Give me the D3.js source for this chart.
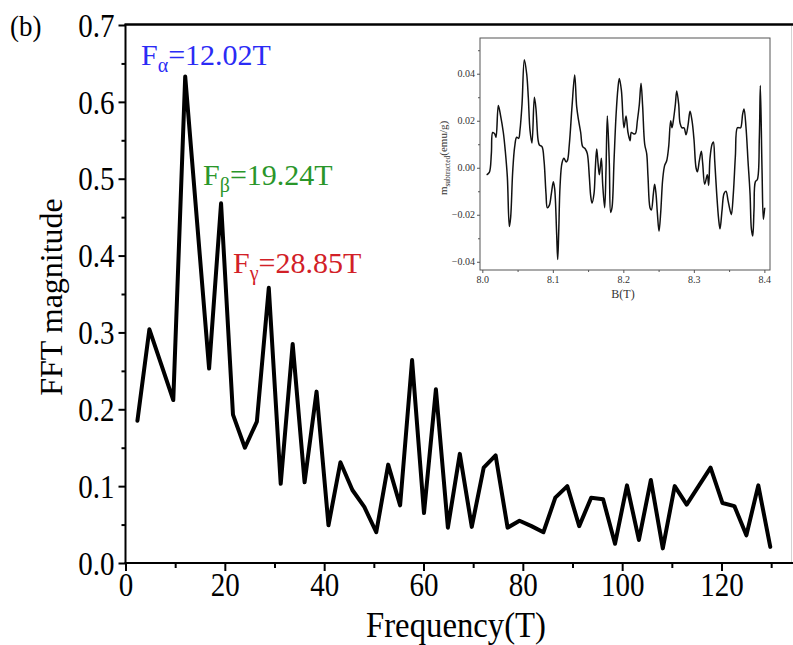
<!DOCTYPE html>
<html>
<head>
<meta charset="utf-8">
<script src="https://cdn.jsdelivr.net/npm/d3@7"></script>
<style>
  body { margin: 0; background: #fff; }
  svg { display: block; font-family: "Liberation Serif", "Times New Roman", serif; }
</style>
</head>
<body>
<svg id="chart" width="793" height="645"></svg>
<script>
// FFT spectrum (main panel)
const freq = [2.40, 4.81, 7.21, 9.62, 12.02, 14.42, 16.83, 19.24, 21.64, 24.04,
  26.45, 28.85, 31.25, 33.66, 36.06, 38.47, 40.87, 43.27, 45.68, 48.08,
  50.49, 52.89, 55.29, 57.70, 60.10, 62.50, 64.91, 67.31, 69.72, 72.12,
  74.52, 76.93, 79.33, 81.74, 84.14, 86.54, 88.95, 91.35, 93.76, 96.16,
  98.56, 100.97, 103.37, 105.78, 108.18, 110.58, 112.99, 115.39, 117.80, 120.20,
  122.60, 125.01, 127.41, 129.82];
const magnitude = [0.185, 0.304, 0.258, 0.212, 0.633, 0.443, 0.253, 0.468, 0.193, 0.150,
  0.184, 0.358, 0.103, 0.285, 0.105, 0.223, 0.049, 0.131, 0.095, 0.073,
  0.040, 0.128, 0.075, 0.264, 0.065, 0.226, 0.046, 0.142, 0.047, 0.124,
  0.140, 0.046, 0.055, 0.048, 0.040, 0.085, 0.100, 0.048, 0.085, 0.083,
  0.025, 0.101, 0.030, 0.108, 0.019, 0.100, 0.076, 0.100, 0.124, 0.078,
  0.074, 0.036, 0.101, 0.021];
const yTicks = [0, 0.1, 0.2, 0.3, 0.4, 0.5, 0.6, 0.7];
const xTicks = [0, 20, 40, 60, 80, 100, 120];

// peak annotations
const peakNames = ["α", "β", "γ"];
const peakLabels = ["=12.02T", "=19.24T", "=28.85T"];
const peakColors = ["#2b2bf5", "#2a962a", "#d22027"];

// inset: subtracted magnetization vs field
const insetB = [8.0061, 8.0099, 8.0128, 8.0147, 8.0175, 8.0194, 8.0227, 8.0260, 8.0298, 8.0326,
  8.0355, 8.0383, 8.0402, 8.0430, 8.0459, 8.0487, 8.0515, 8.0534, 8.0563, 8.0596,
  8.0629, 8.0652, 8.0676, 8.0704, 8.0738, 8.0761, 8.0790, 8.0809, 8.0846, 8.0875,
  8.0903, 8.0922, 8.0950, 8.0979, 8.1007, 8.1026, 8.1054, 8.1069, 8.1083, 8.1102,
  8.1130, 8.1158, 8.1187, 8.1206, 8.1234, 8.1272, 8.1310, 8.1338, 8.1366, 8.1395,
  8.1423, 8.1461, 8.1489, 8.1518, 8.1537, 8.1556, 8.1584, 8.1603, 8.1622, 8.1641,
  8.1660, 8.1688, 8.1707, 8.1735, 8.1754, 8.1773, 8.1801, 8.1820, 8.1839, 8.1868,
  8.1896, 8.1924, 8.1943, 8.1972, 8.2009, 8.2038, 8.2066, 8.2095, 8.2113, 8.2142,
  8.2170, 8.2199, 8.2227, 8.2251, 8.2274, 8.2303, 8.2331, 8.2350, 8.2378, 8.2397,
  8.2426, 8.2444, 8.2463, 8.2482, 8.2506, 8.2530, 8.2558, 8.2586, 8.2615, 8.2643,
  8.2671, 8.2690, 8.2709, 8.2738, 8.2757, 8.2785, 8.2804, 8.2832, 8.2861, 8.2889,
  8.2917, 8.2946, 8.2974, 8.3002, 8.3031, 8.3050, 8.3078, 8.3106, 8.3125, 8.3154,
  8.3191, 8.3210, 8.3229, 8.3258, 8.3277, 8.3296, 8.3324, 8.3352, 8.3371, 8.3400,
  8.3428, 8.3456, 8.3485, 8.3513, 8.3532, 8.3560, 8.3589, 8.3617, 8.3645, 8.3664,
  8.3693, 8.3712, 8.3740, 8.3768, 8.3797, 8.3816, 8.3835, 8.3853, 8.3872, 8.3901,
  8.3929, 8.3943, 8.3967, 8.3986, 8.4005];
const insetM = [-0.0030, -0.0020, 0.0060, 0.0150, 0.0145, 0.0130, 0.0265, 0.0220, 0.0150, 0.0070,
  -0.0040, -0.0250, -0.0210, -0.0020, 0.0090, 0.0130, 0.0125, 0.0160, 0.0270, 0.0460,
  0.0400, 0.0300, 0.0160, 0.0105, 0.0300, 0.0250, 0.0120, 0.0097, 0.0090, 0.0030,
  -0.0110, -0.0170, -0.0160, -0.0110, -0.0060, -0.0090, -0.0280, -0.0390, -0.0280, -0.0080,
  0.0020, 0.0040, 0.0025, 0.0030, 0.0100, 0.0260, 0.0395, 0.0260, 0.0200, 0.0150,
  0.0090, 0.0080, 0.0060, -0.0040, -0.0120, -0.0150, -0.0110, 0.0000, 0.0080, 0.0020,
  -0.0030, 0.0040, -0.0070, -0.0170, -0.0010, 0.0220, 0.0020, -0.0190, -0.0170, 0.0030,
  0.0220, 0.0340, 0.0380, 0.0330, 0.0170, 0.0220, 0.0150, 0.0115, 0.0150, 0.0145,
  0.0145, 0.0200, 0.0270, 0.0360, 0.0260, 0.0100, 0.0060, -0.0040, -0.0170, -0.0180,
  -0.0110, -0.0070, -0.0110, -0.0190, -0.0270, -0.0190, -0.0050, 0.0010, 0.0030, 0.0090,
  0.0200, 0.0170, 0.0200, 0.0270, 0.0327, 0.0270, 0.0190, 0.0170, 0.0170, 0.0140,
  0.0180, 0.0240, 0.0200, 0.0120, 0.0000, -0.0017, 0.0030, 0.0070, 0.0020, -0.0070,
  -0.0030, -0.0075, 0.0040, 0.0100, 0.0110, 0.0030, -0.0110, -0.0220, -0.0260, -0.0180,
  -0.0110, -0.0100, -0.0140, -0.0180, -0.0200, -0.0110, 0.0050, 0.0170, 0.0170, 0.0170,
  0.0230, 0.0250, 0.0170, 0.0030, -0.0110, -0.0260, -0.0290, -0.0180, -0.0060, -0.0050,
  0.0130, 0.0350, -0.0010, -0.0220, -0.0170];
const insetXTicks = [8.0, 8.1, 8.2, 8.3, 8.4];
const insetYTicks = [-0.04, -0.02, 0.00, 0.02, 0.04];

const svg = d3.select("#chart");

// the original glyphs are narrow and tall: squeeze text horizontally
function squeeze(sel, sx) {
  sel.each(function () {
    const t = d3.select(this);
    const tx = +t.attr("x") || 0, ty = +t.attr("y") || 0;
    t.attr("x", 0).attr("y", 0)
      .attr("transform", `translate(${tx},${ty}) scale(${sx},1)`);
  });
}

// ---------- main panel ----------
const x = d3.scaleLinear().domain([0, 135]).range([125.5, 796]);
const y = d3.scaleLinear().domain([0, 0.7]).range([563, 25]);

const pts = freq.map((f, i) => [f, magnitude[i]]);

// minor ticks
svg.append("g")
  .attr("transform", "translate(125.5,0)")
  .call(d3.axisLeft(y).tickValues(d3.range(0.05, 0.7, 0.1)).tickSize(4).tickFormat(""))
  .call(g => g.select(".domain").remove())
  .call(g => g.selectAll("line").attr("stroke-width", 2));
svg.append("g")
  .attr("transform", "translate(0,563)")
  .call(d3.axisBottom(x).tickValues(d3.range(10, 131, 20)).tickSize(5).tickFormat(""))
  .call(g => g.select(".domain").remove())
  .call(g => g.selectAll("line").attr("stroke-width", 2));

// major axes
svg.append("g")
  .attr("transform", "translate(125.5,0)")
  .call(d3.axisLeft(y).tickValues(yTicks).tickSize(7).tickPadding(4).tickFormat(d3.format(".1f")))
  .call(g => g.select(".domain").attr("stroke-width", 2).attr("d", "M0,24V564"))
  .call(g => g.selectAll("line").attr("stroke-width", 2))
  .call(g => g.selectAll("text").attr("font-size", 33).attr("font-family", "Liberation Serif").attr("fill", "#000").attr("dy", "0.34em"))
  .call(g => squeeze(g.selectAll("text"), 0.88));

svg.append("g")
  .attr("transform", "translate(0,563)")
  .call(d3.axisBottom(x).tickValues(xTicks).tickSize(8).tickPadding(3))
  .call(g => g.select(".domain").attr("stroke-width", 2).attr("d", "M124.5,0H793"))
  .call(g => g.selectAll("line").attr("stroke-width", 2))
  .call(g => g.selectAll("text").attr("font-size", 33).attr("font-family", "Liberation Serif").attr("fill", "#000").attr("dy", "0.68em"))
  .call(g => squeeze(g.selectAll("text"), 0.88));

// top frame line and faint right edge
svg.append("line").attr("x1", 124.5).attr("x2", 793).attr("y1", 24.5).attr("y2", 24.5)
  .attr("stroke", "#000").attr("stroke-width", 2.5);
svg.append("line").attr("x1", 791.5).attr("x2", 791.5).attr("y1", 26).attr("y2", 562)
  .attr("stroke", "#d4d4d4").attr("stroke-width", 1);

// spectrum line
svg.append("path")
  .datum(pts)
  .attr("fill", "none")
  .attr("stroke", "#000")
  .attr("stroke-width", 4)
  .attr("stroke-linejoin", "round")
  .attr("stroke-linecap", "round")
  .attr("d", d3.line().x(d => x(d[0])).y(d => y(d[1])));

// axis titles
svg.append("text")
  .attr("x", 456).attr("y", 637)
  .attr("text-anchor", "middle")
  .attr("font-size", 36)
  .text("Frequency(T)")
  .call(s => squeeze(s, 0.91));

svg.append("text")
  .attr("transform", "translate(62,297) rotate(-90)")
  .attr("text-anchor", "middle")
  .attr("font-size", 32)
  .text("FFT magnitude");

svg.append("text")
  .attr("x", 10).attr("y", 36)
  .attr("font-size", 29)
  .text("(b)")
  .call(s => squeeze(s, 0.93));

// peak labels
const peakPos = [[141, 65], [203, 185], [233, 273]];
peakPos.forEach((p, i) => {
  const t = svg.append("text")
    .attr("x", p[0]).attr("y", p[1])
    .attr("font-size", 30)
    .attr("fill", peakColors[i]);
  t.append("tspan").text("F");
  t.append("tspan").attr("font-size", 20).attr("dy", 7).text(peakNames[i]);
  t.append("tspan").attr("dy", -7).text(peakLabels[i]);
});

// ---------- inset ----------
const ix = d3.scaleLinear().domain([7.9967, 8.408]).range([480, 770]);
const iy = d3.scaleLinear().domain([-0.0435, 0.0552]).range([270, 38]);
const inset = svg.append("g");

inset.append("rect")
  .attr("x", 480).attr("y", 38).attr("width", 290).attr("height", 232)
  .attr("fill", "#fff").attr("stroke", "#555").attr("stroke-width", 1);

inset.append("g")
  .attr("transform", "translate(480,0)")
  .call(d3.axisLeft(iy).tickValues([-0.03, -0.01, 0.01, 0.03, 0.05]).tickSize(2).tickFormat(""))
  .call(g => g.select(".domain").remove())
  .call(g => g.selectAll("line").attr("stroke", "#555"));
inset.append("g")
  .attr("transform", "translate(0,270)")
  .call(d3.axisBottom(ix).tickValues([8.05, 8.15, 8.25, 8.35]).tickSize(2).tickFormat(""))
  .call(g => g.select(".domain").remove())
  .call(g => g.selectAll("line").attr("stroke", "#555"));

inset.append("g")
  .attr("transform", "translate(480,0)")
  .call(d3.axisLeft(iy).tickValues(insetYTicks).tickSize(3).tickPadding(2).tickFormat(d3.format(".2f")))
  .call(g => g.select(".domain").remove())
  .call(g => g.selectAll("line").attr("stroke", "#555"))
  .call(g => g.selectAll("text").attr("font-size", 10).attr("font-family", "Liberation Serif").attr("fill", "#333"));
inset.append("g")
  .attr("transform", "translate(0,270)")
  .call(d3.axisBottom(ix).tickValues(insetXTicks).tickSize(3).tickPadding(3).tickFormat(d3.format(".1f")))
  .call(g => g.select(".domain").remove())
  .call(g => g.selectAll("line").attr("stroke", "#555"))
  .call(g => g.selectAll("text").attr("font-size", 10).attr("font-family", "Liberation Serif").attr("fill", "#333"));

inset.append("path")
  .datum(insetB.map((b, i) => [b, insetM[i]]))
  .attr("fill", "none")
  .attr("stroke", "#111")
  .attr("stroke-width", 1.5)
  .attr("stroke-linejoin", "round")
  .attr("d", d3.line().x(d => ix(d[0])).y(d => iy(d[1])).curve(d3.curveCatmullRom.alpha(0.5)));

inset.append("text")
  .attr("x", 623).attr("y", 298)
  .attr("text-anchor", "middle")
  .attr("font-size", 12)
  .attr("fill", "#333")
  .text("B(T)");

const iyl = inset.append("text")
  .attr("transform", "translate(447,158) rotate(-90)")
  .attr("text-anchor", "middle")
  .attr("font-size", 11)
  .attr("fill", "#333");
iyl.append("tspan").text("m");
iyl.append("tspan").attr("font-size", 7.5).attr("dy", 3).text("subtracted");
iyl.append("tspan").attr("dy", -3).text("(emu/g)");
</script>
</body>
</html>
